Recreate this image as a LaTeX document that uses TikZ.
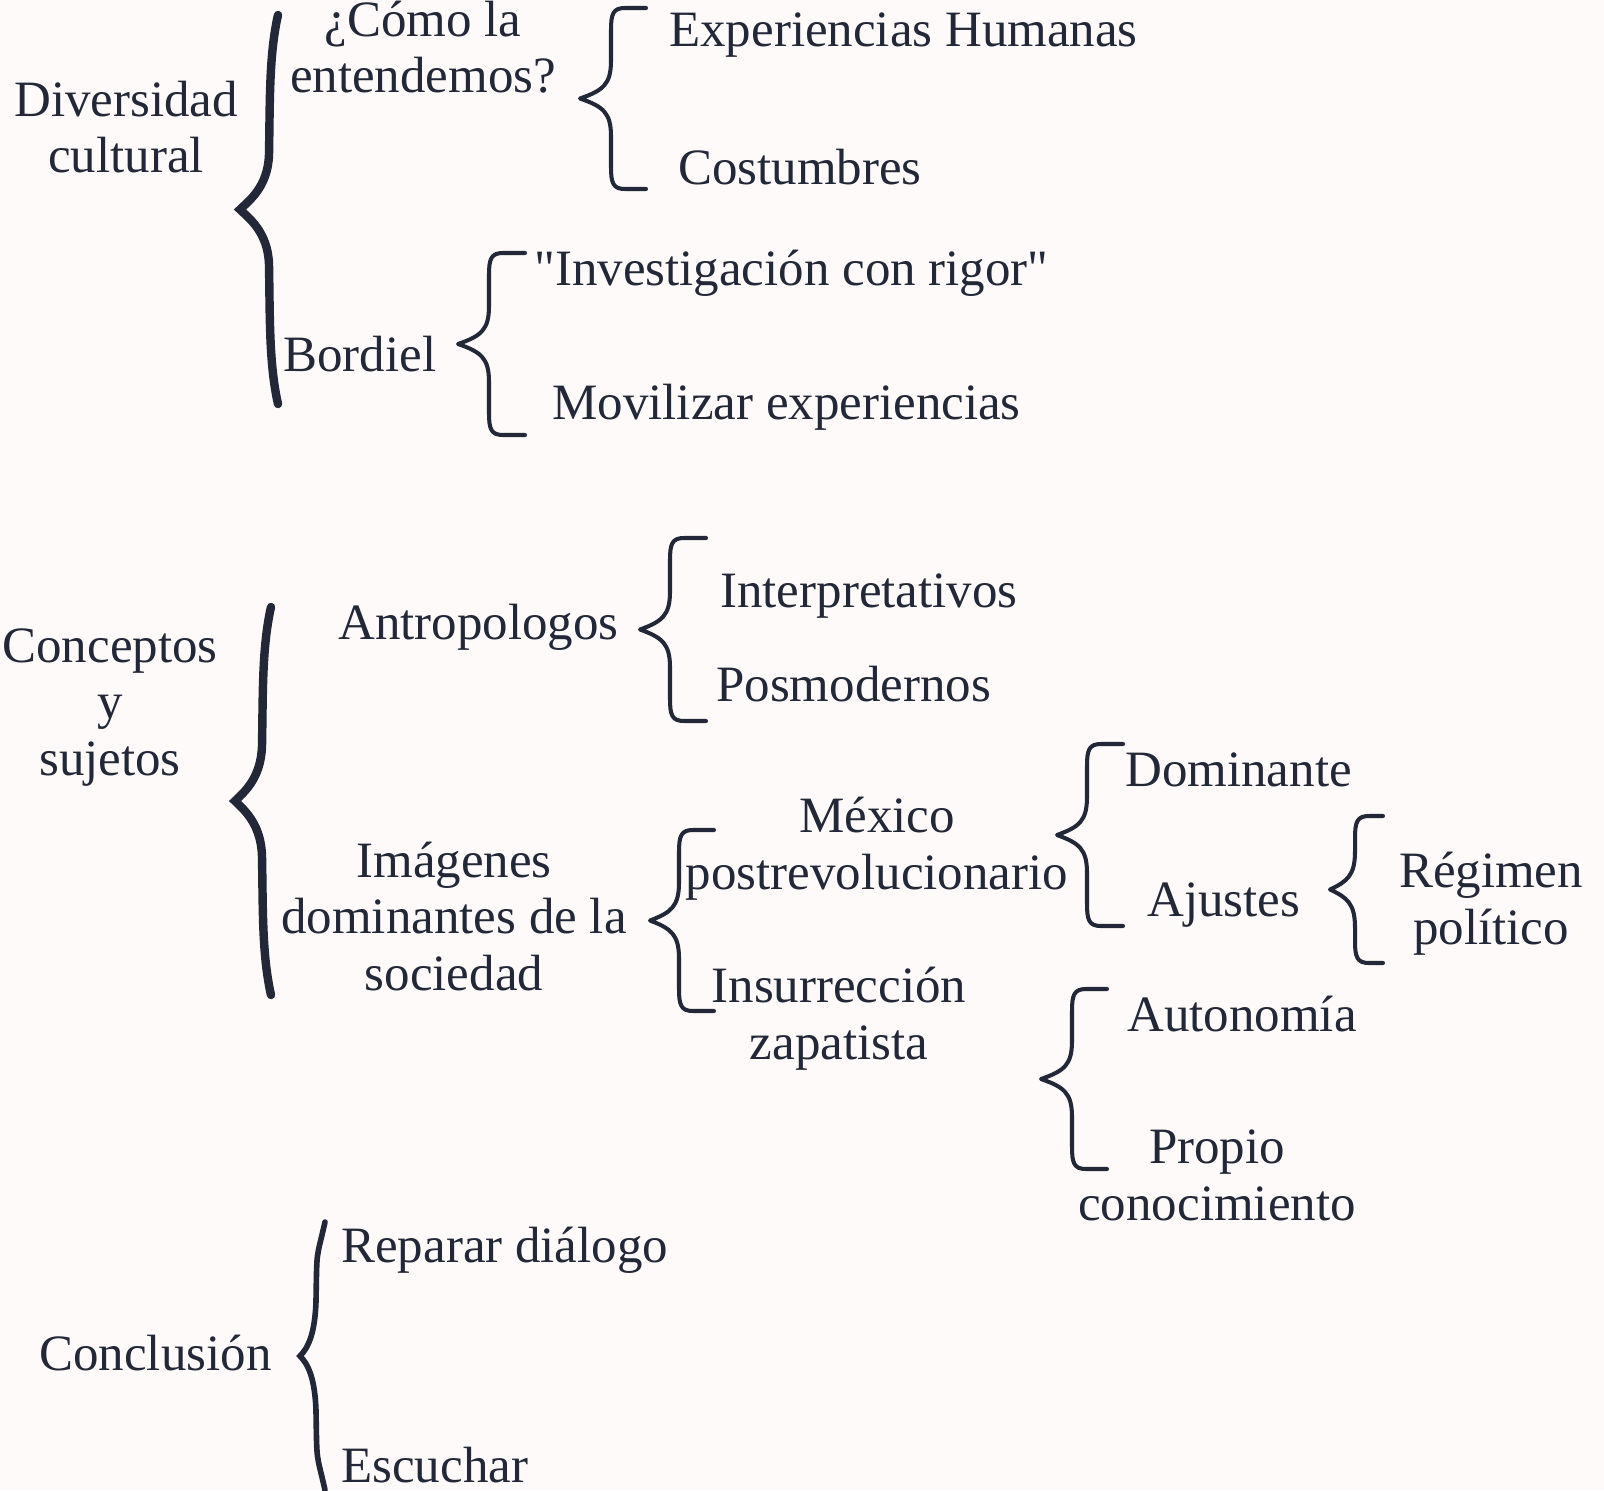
\documentclass[tikz,border=0pt]{standalone}
\usepackage{fontspec}
\setmainfont{Liberation Serif}
\definecolor{tinta}{HTML}{222838}
\definecolor{fondo}{HTML}{FDFAF9}

% llave con ganchos: x del lomo, y arriba, y abajo, x de la punta, x de los ganchos
\newcommand{\llave}[5]{%
  \draw[llave] (#5,#2) -- ({#1+14},#2) .. controls ({#1+2},#2) and (#1,{#2+6}) .. (#1,{#2+22})
    -- (#1,{(#2+#3)/2-38}) .. controls (#1,{(#2+#3)/2-14}) and ({#1-8},{(#2+#3)/2-8}) .. (#4,{(#2+#3)/2})
    .. controls ({#1-8},{(#2+#3)/2+8}) and (#1,{(#2+#3)/2+14}) .. (#1,{(#2+#3)/2+38})
    -- (#1,{#3-22}) .. controls (#1,{#3-6}) and ({#1+2},#3) .. ({#1+14},#3) -- (#5,#3);}

% llave grande sin ganchos: x del lomo, y arriba, y abajo, x de la punta
\newcommand{\llavegrande}[5][bigllave]{%
  \draw[#1] (#2,#3) .. controls ({#2-9},{#3+40}) and ({#2-8},{(#3+#4)/2-110}) .. ({#2-9},{(#3+#4)/2-55})
    .. controls ({#2-10},{(#3+#4)/2-22}) and ({#5+8},{(#3+#4)/2-8}) .. (#5,{(#3+#4)/2})
    .. controls ({#5+8},{(#3+#4)/2+8}) and ({#2-10},{(#3+#4)/2+22}) .. ({#2-9},{(#3+#4)/2+55})
    .. controls ({#2-8},{(#3+#4)/2+110}) and ({#2-9},{#4-40}) .. (#2,#4);}

\begin{document}
\begin{tikzpicture}[x=0.02cm, y=-0.02cm,
    texto/.style={text=tinta, font=\fontsize{29}{32}\selectfont, inner sep=0pt},
    izq/.style={texto, anchor=base west},
    bloque/.style={texto, align=center, anchor=base},
    llave/.style={draw=tinta, line width=2.3pt, line cap=round, line join=round},
    bigllave/.style={draw=tinta, line width=4.8pt, line cap=round},
    llavefina/.style={draw=tinta, line width=3.2pt, line cap=round}]
    \fill[fondo] (0,0) rectangle (1604,1490);
    \useasboundingbox (0,0) rectangle (1604,1490);

    % Diversidad cultural (bloque: y es la linea de base de la ultima linea)
    \node[bloque] (diversidad) at (126,173) {Diversidad\\cultural};
    \llavegrande{278}{15}{404}{240}
    \node[bloque] (como) at (423,93) {¿Cómo la\\entendemos?};
    \llave{611}{8}{189}{580}{646}
    \node[izq] (experiencias) at (669,47) {Experiencias Humanas};
    \node[izq] (costumbres) at (678,185) {Costumbres};
    \node[izq] (bordiel) at (283,371) {Bordiel};
    \llave{489}{253}{435}{458}{525}
    \node[izq] (rigor) at (534,285) {\textquotedbl Investigación con rigor\textquotedbl};
    \node[izq] (movilizar) at (552,419) {Movilizar experiencias};

    % Conceptos y sujetos
    \node[bloque] (conceptos) at (110,775) {Conceptos\\y\\sujetos};
    \llavegrande{271}{607}{995}{235}
    \node[izq] (antropologos) at (338,639) {Antropologos};
    \llave{670}{538}{721}{640}{706}
    \node[izq] (interpretativos) at (720,607) {Interpretativos};
    \node[izq] (posmodernos) at (716,701) {Posmodernos};
    \node[bloque] (imagenes) at (454,990) {Imágenes\\dominantes de la\\sociedad};
    \llave{679}{830}{1011}{650}{714}
    \node[bloque] (mexico) at (877,889) {México\\postrevolucionario};
    \node[bloque] (insurreccion) at (839,1059) {Insurrección\\zapatista};
    \llave{1087}{744}{926}{1057}{1123}
    \node[izq] (dominante) at (1125,786) {Dominante};
    \node[izq] (ajustes) at (1147,916) {Ajustes};
    \llave{1355}{816}{963}{1330}{1383}
    \node[bloque] (regimen) at (1491,944) {Régimen\\político};
    \llave{1072}{989}{1169}{1041}{1107}
    \node[izq] (autonomia) at (1127,1031) {Autonomía};
    \node[bloque] (propio) at (1217,1220) {Propio\\conocimiento};

    % Conclusion
    \node[izq] (conclusion) at (39,1370) {Conclusión};
    \llavegrande[llavefina]{325}{1222}{1490}{300}
    \node[izq] (reparar) at (341,1262) {Reparar diálogo};
    \node[izq] (escuchar) at (341,1482) {Escuchar};
\end{tikzpicture}
\end{document}
